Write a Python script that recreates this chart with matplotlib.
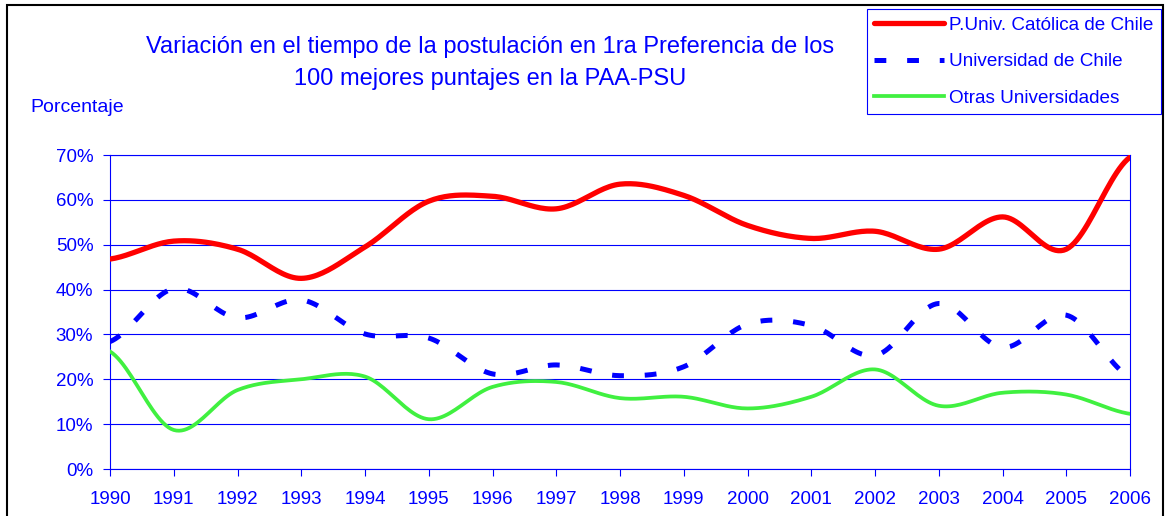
import numpy as np
import matplotlib
matplotlib.use("Agg")
import matplotlib.pyplot as plt
from matplotlib.patches import Rectangle
from matplotlib.ticker import FuncFormatter

plt.rcParams['font.family'] = ['Liberation Sans', 'DejaVu Sans']
plt.rcParams['lines.scale_dashes'] = False

years = list(range(1990, 2007))
puc = [46.8, 50.8, 49.0, 42.5, 49.5, 59.7, 60.8, 58.0, 63.5, 61.0, 54.3, 51.4, 53.0, 49.0, 56.2, 49.0, 69.5]
uch = [28.4, 40.2, 33.7, 37.7, 30.1, 29.2, 21.2, 23.2, 20.8, 22.8, 32.3, 32.0, 25.3, 36.9, 27.1, 34.3, 20.5]
otras = [26.2, 8.7, 17.6, 20.0, 20.6, 11.1, 18.3, 19.4, 15.8, 16.1, 13.5, 16.1, 22.2, 14.1, 17.0, 16.6, 12.3]
labels = ["P.Univ. Católica de Chile", "Universidad de Chile", "Otras Universidades"]

BLUE = '#0000FF'


def smooth(x, y, n=24):
    # linea suavizada estilo Excel (Catmull-Rom)
    x = np.asarray(x, float)
    y = np.asarray(y, float)
    xs, ys = [], []
    t = np.linspace(0, 1, n, endpoint=False)
    for i in range(len(y) - 1):
        p0 = y[i - 1] if i > 0 else y[i]
        p3 = y[i + 2] if i + 2 < len(y) else y[i + 1]
        m1 = (y[i + 1] - p0) / 2
        m2 = (p3 - y[i]) / 2
        h00 = 2 * t**3 - 3 * t**2 + 1
        h10 = t**3 - 2 * t**2 + t
        h01 = -2 * t**3 + 3 * t**2
        h11 = t**3 - t**2
        ys.extend(h00 * y[i] + h10 * m1 + h01 * y[i + 1] + h11 * m2)
        xs.extend(x[i] + t * (x[i + 1] - x[i]))
    xs.append(x[-1])
    ys.append(y[-1])
    return np.array(xs), np.array(ys)


W, H = 1165, 516
fig = plt.figure(figsize=(W / 100, H / 100), dpi=100)
ax = fig.add_axes([110 / W, 1 - 469 / H, 1020 / W, 314 / H])

x1, y1 = smooth(years, puc)
x2, y2 = smooth(years, uch)
x3, y3 = smooth(years, otras)
ax.plot(x1, y1, color='#FF0000', lw=3.8, solid_capstyle='round', label=labels[0], zorder=3)
ax.plot(x2, y2, color=BLUE, lw=3.6, linestyle=(0, (8.5, 15)), dash_capstyle='butt', label=labels[1], zorder=3)
ax.plot(x3, y3, color='#40F040', lw=2.7, label=labels[2], zorder=3)

ax.set_xlim(1990, 2006)
ax.set_ylim(0, 70)
ax.set_xticks(years)
ax.set_yticks(range(0, 71, 10))
ax.yaxis.set_major_formatter(FuncFormatter(lambda v, p: '%d%%' % v))
ax.grid(axis='y', color=BLUE, lw=0.8)
ax.set_axisbelow(True)
for s in ax.spines.values():
    s.set_color(BLUE)
    s.set_linewidth(0.8)
ax.tick_params(axis='both', direction='out', length=5, width=0.8, color=BLUE,
               labelcolor=BLUE, labelsize=13.5)
ax.tick_params(axis='x', pad=11)
ax.tick_params(axis='y', pad=7)

fig.text(490 / W, 1 - 47 / H, "Variación en el tiempo de la postulación en 1ra Preferencia de los",
         ha='center', va='center', color=BLUE, fontsize=17)
fig.text(490 / W, 1 - 79 / H, "100 mejores puntajes en la PAA-PSU",
         ha='center', va='center', color=BLUE, fontsize=17)
fig.text(30 / W, 1 - 107 / H, "Porcentaje", ha='left', va='center', color=BLUE, fontsize=14)

leg = fig.legend(loc='upper right', bbox_to_anchor=(1161 / W, 1 - 9 / H), bbox_transform=fig.transFigure,
                 borderaxespad=0, fontsize=13.6, handlelength=3.7, handletextpad=0.26,
                 labelspacing=1.02, borderpad=0.4, fancybox=False, framealpha=1)
leg.get_frame().set_edgecolor(BLUE)
leg.get_frame().set_linewidth(0.8)
for t in leg.get_texts():
    t.set_color(BLUE)

fig.add_artist(Rectangle((7 / W, -0.02), 1156 / W, 1.02 - 5 / H, transform=fig.transFigure,
                         fill=False, edgecolor='black', lw=1.5))

plt.savefig("out.png", dpi=100)
